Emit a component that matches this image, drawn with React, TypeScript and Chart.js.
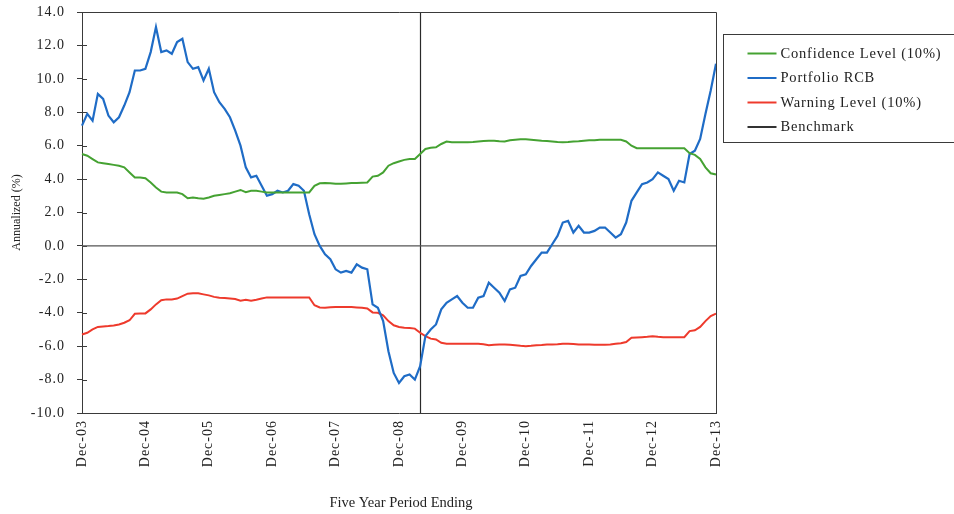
import React, { useEffect, useRef } from "react";
import { Chart, registerables } from "chart.js";

Chart.register(...registerables);

// ---- Data ----
const monthNames = ["Jan", "Feb", "Mar", "Apr", "May", "Jun", "Jul", "Aug", "Sep", "Oct", "Nov", "Dec"];
// monthly categories Dec-03 .. Dec-13
const labels: string[] = [];
for (let i = 0; i <= 120; i++) {
  const m = (11 + i) % 12;
  const y = 3 + Math.floor((11 + i) / 12);
  labels.push(`${monthNames[m]}-${String(y).padStart(2, "0")}`);
}

const confidenceLevel = [
  5.5, 5.4, 5.2, 5.0, 4.95, 4.9, 4.85, 4.8, 4.7, 4.4,
  4.1, 4.1, 4.05, 3.8, 3.5, 3.25, 3.2, 3.2, 3.2, 3.1,
  2.85, 2.9, 2.85, 2.82, 2.9, 3.0, 3.05, 3.1, 3.15, 3.25,
  3.35, 3.22, 3.3, 3.3, 3.25, 3.2, 3.2, 3.2, 3.2, 3.2,
  3.2, 3.2, 3.2, 3.2, 3.6, 3.75, 3.76, 3.75, 3.72, 3.72,
  3.74, 3.76, 3.76, 3.78, 3.8, 4.15, 4.2, 4.4, 4.8, 4.95,
  5.05, 5.15, 5.2, 5.2, 5.5, 5.8, 5.88, 5.9, 6.1, 6.25,
  6.2, 6.2, 6.2, 6.2, 6.22, 6.25, 6.28, 6.3, 6.3, 6.27,
  6.25, 6.32, 6.36, 6.38, 6.38, 6.36, 6.33, 6.3, 6.28, 6.25,
  6.22, 6.2, 6.22, 6.25, 6.27, 6.3, 6.32, 6.33, 6.35, 6.35,
  6.35, 6.35, 6.35, 6.25, 6.0, 5.85, 5.85, 5.85, 5.85, 5.85,
  5.85, 5.85, 5.85, 5.85, 5.85, 5.55, 5.45, 5.2, 4.7, 4.35,
  4.27,
];

const portfolioRCB = [
  7.2, 7.9, 7.5, 9.1, 8.8, 7.8, 7.4, 7.7, 8.4, 9.2,
  10.5, 10.5, 10.6, 11.6, 13.1, 11.6, 11.7, 11.5, 12.2, 12.4,
  11.0, 10.6, 10.7, 9.9, 10.6, 9.2, 8.6, 8.2, 7.7, 6.9,
  6.0, 4.7, 4.1, 4.2, 3.6, 3.0, 3.1, 3.3, 3.2, 3.3,
  3.7, 3.6, 3.3, 1.9, 0.7, 0.0, -0.5, -0.8, -1.4, -1.6,
  -1.5, -1.6, -1.1, -1.3, -1.4, -3.5, -3.7, -4.5, -6.3, -7.6,
  -8.2, -7.8, -7.7, -8.0, -7.2, -5.4, -5.0, -4.7, -3.8, -3.4,
  -3.2, -3.0, -3.4, -3.7, -3.7, -3.1, -3.0, -2.2, -2.5, -2.8,
  -3.3, -2.6, -2.5, -1.8, -1.7, -1.2, -0.8, -0.4, -0.4, 0.1,
  0.6, 1.4, 1.5, 0.8, 1.2, 0.8, 0.8, 0.9, 1.1, 1.1,
  0.8, 0.5, 0.7, 1.4, 2.7, 3.2, 3.7, 3.8, 4.0, 4.4,
  4.2, 4.0, 3.3, 3.9, 3.8, 5.5, 5.7, 6.4, 7.9, 9.3,
  10.9,
];

const warningLevel = [
  -5.3, -5.2, -5.0, -4.85, -4.82, -4.8, -4.76, -4.7, -4.6, -4.45,
  -4.06, -4.05, -4.04, -3.8, -3.5, -3.25, -3.2, -3.2, -3.15, -3.0,
  -2.86, -2.84, -2.84, -2.9, -2.96, -3.05, -3.1, -3.12, -3.15, -3.18,
  -3.28, -3.22, -3.28, -3.22, -3.15, -3.08, -3.08, -3.08, -3.08, -3.08,
  -3.08, -3.08, -3.08, -3.08, -3.55, -3.68, -3.7, -3.67, -3.66, -3.66,
  -3.66, -3.66, -3.68, -3.7, -3.74, -3.98, -4.0, -4.15, -4.5, -4.75,
  -4.85, -4.9, -4.92, -4.95, -5.2, -5.4, -5.55, -5.6, -5.8, -5.86,
  -5.86, -5.86, -5.86, -5.86, -5.86, -5.86, -5.88, -5.94, -5.92, -5.9,
  -5.9, -5.92, -5.95, -5.98, -6.0, -5.98, -5.95, -5.93, -5.9, -5.9,
  -5.88, -5.85, -5.85, -5.87, -5.9, -5.9, -5.9, -5.92, -5.92, -5.92,
  -5.9, -5.85, -5.82, -5.75, -5.5, -5.48, -5.46, -5.44, -5.4, -5.44,
  -5.46, -5.46, -5.46, -5.46, -5.46, -5.1, -5.05, -4.85, -4.5, -4.2,
  -4.05,
];

const benchmarkValue = 0;
const benchmark = labels.map(() => benchmarkValue);

// vertical marker category (Apr-09)
const markerLabel = "Apr-09";

const seriesNames = ["Confidence Level (10%)", "Portfolio RCB", "Warning Level (10%)", "Benchmark"];
const seriesColors = ["#45a232", "#1f6cc6", "#ee3a2c", "#333333"];

const yMin = -10;
const yMax = 14;
const yStep = 2;
const xTitle = "Five Year Period Ending";
const yTitle = "Annualized (%)";

const FONT = "'Liberation Serif', 'Times New Roman', serif";
const TEXT = "#222222";
const FRAME = "#3a3a3a";

const decorPlugin = {
  id: "decor",
  beforeDraw(chart: any) {
    chart.ctx.letterSpacing = "1px";
  },
  beforeDatasetsDraw(chart: any) {
    const { ctx, chartArea, scales } = chart;
    const xs = scales.x;
    const ys = scales.y;
    ctx.save();
    // vertical marker
    const idx = labels.indexOf(markerLabel);
    const mx = Math.round(xs.getPixelForValue(idx)) + 0.5;
    ctx.strokeStyle = "#2a2a2a";
    ctx.lineWidth = 1.2;
    ctx.beginPath();
    ctx.moveTo(mx, chartArea.top);
    ctx.lineTo(mx, chartArea.bottom);
    ctx.stroke();
    // inner y tick marks
    ctx.strokeStyle = FRAME;
    ctx.lineWidth = 1;
    for (let v = yMin; v <= yMax; v += yStep) {
      const py = Math.round(ys.getPixelForValue(v)) + 0.5;
      ctx.beginPath();
      ctx.moveTo(chartArea.left, py);
      ctx.lineTo(chartArea.left + 5, py);
      ctx.stroke();
    }
    ctx.restore();
  },
  afterDraw(chart: any) {
    const { ctx, chartArea } = chart;
    ctx.save();
    // frame top/right
    ctx.strokeStyle = FRAME;
    ctx.lineWidth = 1;
    ctx.beginPath();
    ctx.moveTo(chartArea.left, Math.round(chartArea.top) + 0.5);
    ctx.lineTo(Math.round(chartArea.right) + 0.5, Math.round(chartArea.top) + 0.5);
    ctx.lineTo(Math.round(chartArea.right) + 0.5, chartArea.bottom);
    ctx.stroke();

    // axis titles
    ctx.letterSpacing = "0px";
    ctx.fillStyle = TEXT;
    ctx.font = `12px ${FONT}`;
    ctx.textAlign = "center";
    ctx.textBaseline = "middle";
    ctx.save();
    ctx.translate(17, (chartArea.top + chartArea.bottom) / 2);
    ctx.rotate(-Math.PI / 2);
    ctx.fillText(yTitle, 0, 0);
    ctx.restore();
    ctx.font = `14.5px ${FONT}`;
    ctx.fillText(xTitle, (chartArea.left + chartArea.right) / 2 + 2, 503);

    // legend box
    const bx = Math.round(chartArea.right) + 7.5;
    const by = 34.5;
    ctx.strokeStyle = FRAME;
    ctx.lineWidth = 1;
    ctx.strokeRect(bx, by, 260, 108);
    ctx.font = `14.5px ${FONT}`;
    ctx.letterSpacing = "0.8px";
    ctx.textAlign = "left";
    seriesNames.forEach((name, i) => {
      const cy = by + 19 + i * 24.5;
      ctx.strokeStyle = seriesColors[i];
      ctx.lineWidth = 2;
      ctx.beginPath();
      ctx.moveTo(bx + 24, cy);
      ctx.lineTo(bx + 53, cy);
      ctx.stroke();
      ctx.fillStyle = TEXT;
      ctx.fillText(name, bx + 57, cy + 0.5);
    });
    ctx.restore();
  },
};

export default function App() {
  const canvasRef = useRef<HTMLCanvasElement | null>(null);

  useEffect(() => {
    if (!canvasRef.current) return;
    const chart = new Chart(canvasRef.current, {
      type: "line",
      data: {
        labels,
        datasets: [
          { label: seriesNames[0], data: confidenceLevel, borderColor: seriesColors[0], borderWidth: 2 },
          { label: seriesNames[1], data: portfolioRCB, borderColor: seriesColors[1], borderWidth: 2.2 },
          { label: seriesNames[2], data: warningLevel, borderColor: seriesColors[2], borderWidth: 2 },
          { label: seriesNames[3], data: benchmark, borderColor: "#555555", borderWidth: 1.3 },
        ],
      },
      options: {
        animation: false,
        responsive: true,
        maintainAspectRatio: false,
        elements: { point: { radius: 0, hoverRadius: 0 }, line: { tension: 0 } },
        layout: { padding: { top: 12, right: 238, left: 0, bottom: 0 } },
        plugins: { legend: { display: false }, tooltip: { enabled: false } },
        scales: {
          x: {
            type: "category",
            offset: false,
            grid: { display: true, drawOnChartArea: false, drawTicks: false, color: FRAME },
            border: { display: true, color: FRAME, width: 1 },
            ticks: {
              autoSkip: false,
              minRotation: 90,
              maxRotation: 90,
              padding: 7,
              color: TEXT,
              font: { family: FONT, size: 14 },
              callback: (_v: any, i: number) => (labels[i].startsWith("Dec") ? labels[i] : ""),
            },
            afterFit: (s: any) => {
              s.height = 101;
              s.paddingLeft = 0;
              s.paddingRight = 0;
            },
          },
          y: {
            min: yMin,
            max: yMax,
            grid: { display: true, drawOnChartArea: false, tickLength: 5, color: FRAME },
            border: { display: true, color: FRAME, width: 1 },
            ticks: {
              stepSize: yStep,
              padding: 12,
              color: TEXT,
              font: { family: FONT, size: 14 },
              callback: (v: any) => Number(v).toFixed(1),
            },
            afterFit: (s: any) => {
              s.width = 82;
              s.paddingTop = 0;
              s.paddingBottom = 0;
            },
          },
        },
      },
      plugins: [decorPlugin],
    });
    return () => chart.destroy();
  }, []);

  return (
    <div style={{ position: "absolute", left: 0, top: 0, width: 954, height: 514, background: "#fff" }}>
      <canvas ref={canvasRef} />
    </div>
  );
}
